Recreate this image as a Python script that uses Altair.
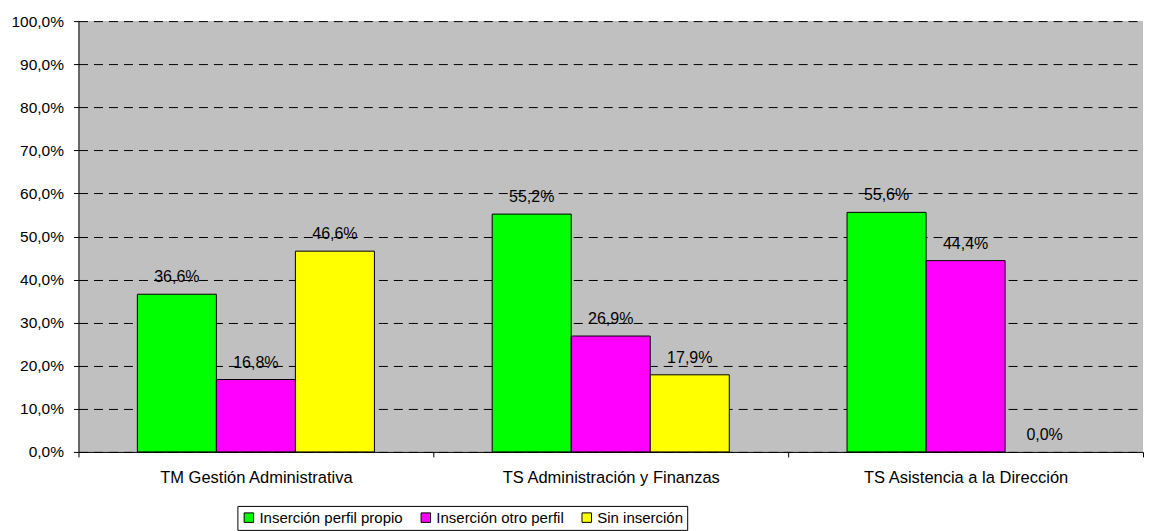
import altair as alt
import pandas as pd

categories = ["TM Gestión Administrativa", "TS Administración y Finanzas", "TS Asistencia a la Dirección"]
series = ["Inserción perfil propio", "Inserción otro perfil", "Sin inserción"]
colors = ["#00FF00", "#FF00FF", "#FFFF00"]
perfil_propio = [0.366, 0.552, 0.556]
otro_perfil = [0.168, 0.269, 0.444]
sin_insercion = [0.466, 0.179, 0.0]
y_ticks = [i / 10 for i in range(11)]

rows = []
for s, vals in zip(series, [perfil_propio, otro_perfil, sin_insercion]):
    for c, v in zip(categories, vals):
        rows.append({"cat": c, "serie": s, "val": v,
                     "label": f"{v*100:.1f}%".replace(".", ",")})
df = pd.DataFrame(rows)

FONT = "Liberation Sans"

x_enc = alt.X("cat:N", sort=categories, title=None,
              scale=alt.Scale(paddingInner=0, paddingOuter=0),
              axis=alt.Axis(labelAngle=0, tickBand="extent", tickSize=5,
                            tickColor="black", domainColor="black",
                            labelFont=FONT, labelFontSize=16.5, labelColor="black",
                            labelPadding=13, labelLimit=0, grid=False))
xo_enc = alt.XOffset("serie:N", sort=series,
                     scale=alt.Scale(paddingInner=0, paddingOuter=0.745))
y_enc = alt.Y("val:Q", title=None,
              scale=alt.Scale(domain=[0, 1], nice=False),
              axis=alt.Axis(values=y_ticks,
                            labelExpr="replace(format(datum.value, '.1%'), '.', ',')",
                            labelFont=FONT, labelFontSize=15.5, labelColor="black",
                            labelPadding=10, tickSize=5, tickColor="black",
                            domainColor="black", grid=True, gridColor="black",
                            gridDash=[9, 6], gridWidth=1))

bars = alt.Chart(df).transform_filter("datum.val > 0").mark_bar(
    stroke="black", strokeWidth=1).encode(
    x=x_enc, xOffset=xo_enc, y=y_enc,
    color=alt.Color("serie:N", sort=series,
                    scale=alt.Scale(domain=series, range=colors),
                    legend=alt.Legend(title=None, orient="none", direction="horizontal",
                                      legendX=159, legendY=485,
                                      symbolType="square", symbolSize=90,
                                      symbolStrokeColor="black", symbolStrokeWidth=1,
                                      labelFont=FONT, labelFontSize=15, labelColor="black",
                                      labelOffset=3, columnPadding=15,
                                      strokeColor="black", fillColor="white",
                                      padding=4))
)

labels = alt.Chart(df).mark_text(font=FONT, fontSize=16, color="black",
                                 baseline="alphabetic", dy=-12).encode(
    x=alt.X("cat:N", sort=categories),
    xOffset=alt.XOffset("serie:N", sort=series),
    y="val:Q",
    text="label:N",
)

chart = (bars + labels).properties(
    width=1065, height=431,
    background="white",
    padding={"left": 2.5, "top": 6, "right": 0, "bottom": 0},
).configure_view(fill="#C0C0C0", stroke=None)

chart.save("out.html", embed_options={"renderer": "svg", "actions": False})
